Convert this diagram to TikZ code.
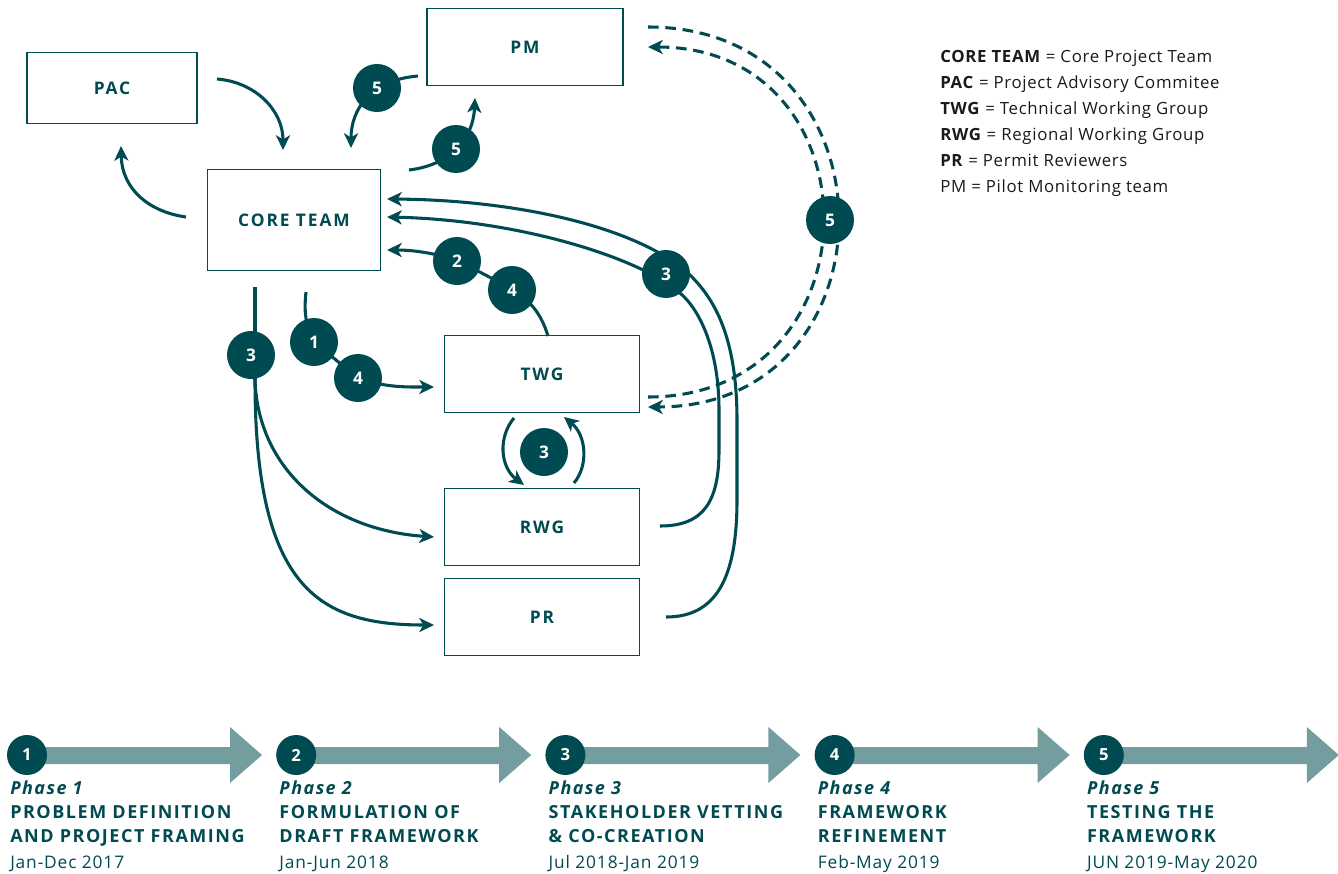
\documentclass[tikz,border=0pt]{standalone}
\usepackage{fontspec}
\setmainfont{Open Sans}
\newfontfamily\boxfont[LetterSpace=11]{Open Sans}
\newfontfamily\capfont[LetterSpace=8.5]{Open Sans}
\newfontfamily\legfont[LetterSpace=4]{Open Sans}
\newfontfamily\datefont[LetterSpace=5]{Open Sans}
\newfontfamily\phasefont[LetterSpace=8]{Open Sans}
\usetikzlibrary{arrows.meta}
\definecolor{dk}{HTML}{004A51}
\definecolor{lt}{HTML}{739D9F}
\definecolor{lg}{HTML}{1A1A1A}
\begin{document}
\begin{tikzpicture}[x=0.75pt,y=-0.75pt,
  box/.style={draw=dk,line width=1.2pt,fill=white,text=dk,font=\boxfont\fontsize{13}{16}\selectfont\bfseries,inner sep=0pt},
  badge/.style={circle,fill=dk,text=white,minimum size=36pt,inner sep=0pt,font=\fontsize{13}{16}\selectfont\bfseries},
  conn/.style={draw=dk,line width=2.3pt},
  arr/.style={conn,-{Stealth[length=11pt,width=10.5pt,inset=3pt]}},
  dsh/.style={draw=dk,line width=2.3pt,dash pattern=on 8pt off 5pt},
  dsharr/.style={dsh,-{Stealth[length=11pt,width=10.5pt,inset=3pt]}},
  tbadge/.style={circle,fill=dk,text=white,minimum size=30pt,inner sep=0pt,font=\fontsize{12.5}{15}\selectfont\bfseries},
  legend/.style={anchor=base west,text=lg,font=\legfont\fontsize{12.6}{15}\selectfont,inner sep=0pt},
  ttl/.style={anchor=base west,text=dk,inner sep=0pt}]
\useasboundingbox (0,0) rectangle (1338,874);

% boxes
\node[box,minimum width=127.5pt,minimum height=53.25pt] (pac) at (112,88) {PAC};
\node[box,minimum width=147pt,minimum height=57.75pt] (pm) at (525,47) {PM};
\node[box,minimum width=129.75pt,minimum height=75.75pt] (core) at (294,220) {CORE TEAM};
\node[box,minimum width=146.25pt,minimum height=57.75pt] (twg) at (542,374) {TWG};
\node[box,minimum width=146.25pt,minimum height=57.75pt] (rwg) at (542,527) {RWG};
\node[box,minimum width=146.25pt,minimum height=57.75pt] (pr) at (542,617) {PR};

% connector end points
\coordinate (pacOut) at (217,79);
\coordinate (coreInTop1) at (283,150);
\coordinate (coreOutL) at (186,217);
\coordinate (pacIn) at (121,146);
\coordinate (pmOutL) at (418,76);
\coordinate (coreInTop2) at (351,148);
\coordinate (coreOutR) at (409,170);
\coordinate (pmIn) at (475,98);
\coordinate (coreInR1) at (387,199);
\coordinate (coreInR2) at (387,217);
\coordinate (coreInR3) at (387,250);
\coordinate (twgTop) at (548,336);
\coordinate (prOut) at (666,617);
\coordinate (rwgOut) at (660,526);
\coordinate (coreB1) at (255,287);
\coordinate (coreB2) at (306,292);
\coordinate (twgInL) at (434,387);
\coordinate (rwgIn) at (434,537);
\coordinate (prIn) at (434,625);
\coordinate (twgB) at (514,418);
\coordinate (rwgT) at (524,485);
\coordinate (rwgT2) at (574,483);
\coordinate (twgB2) at (564,417);
\coordinate (pmR1) at (648,27);
\coordinate (twgR1) at (648,407);
\coordinate (twgR2) at (648,397);
\coordinate (pmR2) at (648,47);

% PAC <-> CORE
\draw[arr] (pacOut) .. controls (255,82) and (283,110) .. (coreInTop1);
\draw[arr] (coreOutL) .. controls (150,212) and (122,190) .. (pacIn);
% PM <-> CORE
\draw[arr] (pmOutL) .. controls (370,80) and (351,110) .. (coreInTop2);
\draw[arr] (coreOutR) .. controls (450,165) and (473,140) .. (pmIn);
% TWG -> CORE (2,4)
\draw[arr] (twgTop) .. controls (540,310) and (528,300) .. (512,289) -- (457,260) .. controls (430,252) and (410,250) .. (coreInR3);
% PR -> CORE, RWG -> CORE (3)
\draw[arr] (prOut) .. controls (715,617) and (737,580) .. (737,500) -- (737,420) .. controls (737,330) and (710,295) .. (690,275) .. controls (640,228) and (520,200) .. (coreInR1);
\draw[arr] (rwgOut) .. controls (705,526) and (719,500) .. (719,450) -- (719,410) .. controls (719,350) and (700,310) .. (680,293) .. controls (640,258) and (520,220) .. (coreInR2);
% CORE -> RWG, PR (3)
\draw[conn] (coreB1) -- (255,380);
\draw[arr] (255,380) .. controls (258,470) and (330,530) .. (rwgIn);
\draw[arr] (255,380) .. controls (255,590) and (320,625) .. (prIn);
% CORE -> TWG (1,4)
\draw[arr] (coreB2) .. controls (304,310) and (305,325) .. (314,342) -- (358,378) .. controls (385,388) and (410,387) .. (twgInL);
% TWG <-> RWG
\draw[arr] (twgB) .. controls (498,437) and (500,467) .. (rwgT);
\draw[arr] (rwgT2) .. controls (589,465) and (586,435) .. (twgB2);
% PM <-> TWG dashed
\draw[dsharr] (pmR1) .. controls (901,27) and (901,407) .. (twgR1);
\draw[dsharr] (twgR2) .. controls (881,397) and (881,47) .. (pmR2);

% badges
\node[badge] (b5a) at (377,88) {5};
\node[badge] (b5b) at (456,149) {5};
\node[badge] (b2) at (457,261) {2};
\node[badge] (b4a) at (512,290) {4};
\node[badge] (b3r) at (666,274) {3};
\node[badge] (b5r) at (830,220) {5};
\node[badge] (b3l) at (251,355) {3};
\node[badge] (b1) at (314,342) {1};
\node[badge] (b4b) at (358,378) {4};
\node[badge] (b3m) at (544,452) {3};

% legend
\node[legend] (l1) at (940,63) {\textbf{CORE TEAM} = Core Project Team};
\node[legend] (l2) at (940,89) {\textbf{PAC} = Project Advisory Commitee};
\node[legend] (l3) at (940,114) {\textbf{TWG} = Technical Working Group};
\node[legend] (l4) at (940,140) {\textbf{RWG} = Regional Working Group};
\node[legend] (l5) at (940,166) {\textbf{PR} = Permit Reviewers};
\node[legend] (l6) at (940,192) {PM = Pilot Monitoring team};

% timeline
\foreach \i/\la/\lb/\dt in {1/PROBLEM DEFINITION/AND PROJECT FRAMING/Jan-Dec 2017,
  2/FORMULATION OF/DRAFT FRAMEWORK/Jan-Jun 2018,
  3/STAKEHOLDER VETTING/\& CO-CREATION/Jul 2018-Jan 2019,
  4/FRAMEWORK/REFINEMENT/Feb-May 2019,
  5/TESTING THE/FRAMEWORK/JUN 2019-May 2020}{
  \pgfmathsetmacro{\cx}{27+269.2*(\i-1)}
  \fill[lt] (\cx,747) -- (\cx+203,747) -- (\cx+203,727) -- (\cx+235,755) -- (\cx+203,783) -- (\cx+203,764) -- (\cx,764) -- cycle;
  \node[tbadge] (tb\i) at (\cx,755) {\i};
  \node[ttl,font=\phasefont\fontsize{13.5}{16}\selectfont\bfseries\itshape] (tp\i) at (\cx-17,794) {Phase \i};
  \node[ttl,font=\capfont\fontsize{13.5}{16}\selectfont\bfseries] (ta\i) at (\cx-17,818) {\la};
  \node[ttl,font=\capfont\fontsize{13.5}{16}\selectfont\bfseries] (tc\i) at (\cx-17,842) {\lb};
  \node[ttl,font=\datefont\fontsize{13}{16}\selectfont] (td\i) at (\cx-17,868) {\dt};
}
\end{tikzpicture}
\end{document}
